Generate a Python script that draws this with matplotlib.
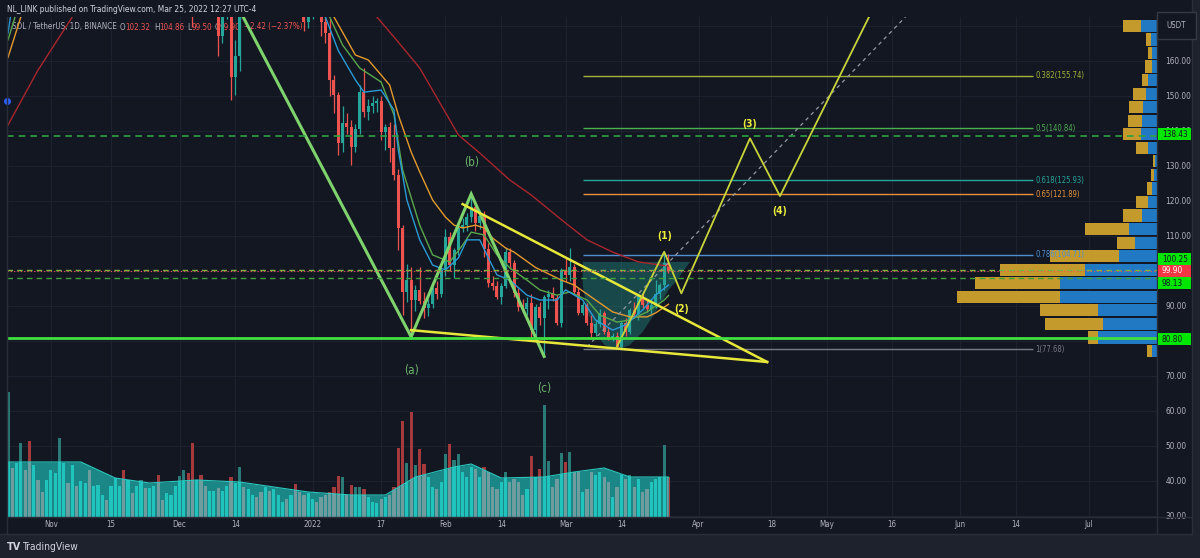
import matplotlib
matplotlib.use('Agg')
import matplotlib.pyplot as plt
import matplotlib.dates as mdates
from matplotlib.patches import Rectangle, Polygon
from matplotlib import font_manager
import pandas as pd

W, H = 1200, 558
fonts = font_manager.fontManager.ttflist
names = {f.name for f in fonts}
STRETCH = 'normal'
if 'Liberation Sans Narrow' in names:
    FONT = 'Liberation Sans Narrow'
elif any(f.name == 'DejaVu Sans' and f.stretch in ('condensed', 'semi-condensed') for f in fonts):
    FONT, STRETCH = 'DejaVu Sans', 'condensed'
else:
    FONT = 'Liberation Sans'
plt.rcParams['font.family'] = [FONT, 'DejaVu Sans']
plt.rcParams['font.stretch'] = STRETCH

BG = '#131722'
GRID = '#1e2230'
TXT = '#b2b5be'
UP = '#26a69a'
DN = '#ef5350'

# ---------------- data ----------------
# daily candles Dec 1 2021 .. Mar 25 2022 (O, H, L, C)
candle_open = [210, 232, 236, 215, 200, 203, 195, 190, 196, 198, 167, 176, 180, 155.5, 161.3, 178, 174, 182, 188, 183, 180, 190, 186, 192, 194, 195, 192, 194, 180, 176, 171,
               176, 178, 176, 171, 168, 154.6, 150.3, 136.6, 142.3, 141.2, 135.4, 140.6, 151, 145.4, 147.2, 148, 148.6, 139.7, 141, 135, 127.4, 112.3, 94, 97.4, 91.7, 94.6, 91.5, 89.4, 90.5, 95, 93.5,
               100.3, 109.8, 101.7, 106, 112.3, 113.2, 115.5, 118.4, 113.7, 115.6, 106.3, 96.6, 95.8, 92.6, 95.7, 105.5, 102.2, 93.7, 89.8, 89, 90.8, 83.1, 89.8, 86.5, 92.7, 93.5, 92.3, 85.1,
               100.3, 98.8, 101, 94, 88, 90.3, 85.1, 82.2, 84.8, 88, 82.7, 80.8, 81.5, 78.4, 85.1, 82.5, 88.9, 87.6, 92.8, 90.3, 89.1, 90.2, 93.4, 95.9, 102.32]
candle_high = [238, 241, 238, 218, 206, 205, 200, 198, 200, 200, 178, 183, 181, 166, 182, 184, 186, 190, 194, 186, 192, 196, 194, 200, 198, 198, 200, 196, 184, 178, 177,
               180, 182, 178, 173, 172, 156, 151, 147, 145, 143, 142, 153, 158, 149, 150, 149.5, 150, 142, 142.5, 142, 129, 113, 102, 101, 96, 101, 94, 92, 95.5, 97, 101,
               112, 111, 106.5, 114, 115, 116.5, 121.7, 120, 117.5, 117, 108, 98.5, 97, 96.5, 106.5, 106.5, 103, 95, 92, 92.5, 93.5, 90.5, 91, 93, 94.5, 95.5, 93, 100.8,
               104, 106.5, 102, 95, 91, 90.8, 87.5, 86, 89, 88.5, 84, 82.3, 82.5, 85.8, 86.5, 89.5, 91, 93.5, 94, 92, 92, 97.5, 96.5, 105.5, 104.86]
candle_low = [208, 225, 212, 169.7, 190, 180, 188, 186, 185, 161.5, 165, 172, 148.8, 150.2, 157, 172, 173, 178, 180, 175, 178, 184, 182, 188, 190, 188, 188, 178, 174, 168.5, 169.5,
              172, 174, 167, 165, 150, 145, 133, 134, 139, 130.3, 134, 139, 144, 143, 145, 145.5, 137.5, 134.5, 131, 126, 106, 87.4, 91, 82, 88.5, 90.5, 86.5, 87, 89.5, 92, 92.5,
              98.5, 100, 98, 104.5, 111, 111.5, 114, 111.5, 112, 104, 95.5, 94.5, 92, 90.5, 95, 100.5, 92.5, 88.5, 88, 87.5, 81, 81.5, 84.5, 76, 89, 91.5, 84.5, 84,
              97, 97, 93.5, 87.5, 87.5, 84.5, 81, 81.5, 84, 82, 80.3, 80, 77.68, 78, 81.5, 82, 86.5, 86, 89.5, 88.2, 87.8, 89.5, 92, 94.6, 99.5]
candle_close = [232, 236, 215, 200, 203, 195, 190, 196, 198, 167, 176, 180, 155.5, 161.3, 178, 174, 182, 188, 183, 180, 190, 186, 192, 194, 195, 192, 194, 180, 176, 171, 176,
                178, 176, 171, 168, 154.6, 150.3, 136.6, 142.3, 141.2, 135.4, 140.6, 151, 145.4, 147.2, 148, 148.6, 139.7, 141, 135, 127.4, 112.3, 94, 97.4, 91.7, 94.6, 91.5, 89.4, 90.5, 95, 93.5, 100.3,
                109.8, 101.7, 106, 112.3, 113.2, 115.5, 118.4, 113.7, 115.6, 106.3, 96.6, 95.8, 92.6, 95.7, 105.5, 102.2, 93.7, 89.8, 89, 90.8, 83.1, 89.8, 86.5, 92.7, 93.5, 92.3, 85.1, 100.3,
                98.8, 101, 94, 88, 90.3, 85.1, 82.2, 84.8, 88, 82.7, 80.8, 81.5, 78.4, 85.1, 82.5, 88.9, 87.6, 92.8, 90.3, 89.1, 90.2, 93.4, 95.9, 102.32, 99.9]
candle_dates = pd.date_range('2021-12-01', '2022-03-25', freq='D')

# volume (Oct 22 2021 .. Mar 25 2022), arbitrary units; colour of Oct/Nov bars
volume = [125, 49, 54, 74, 47, 76, 52, 37, 25, 37,
          47, 44, 79, 54, 34, 52, 31, 36, 34, 47, 31, 32, 22, 17, 31, 39, 31, 47, 37, 24, 31, 37, 29, 29, 31, 42, 17, 24, 22, 31,
          41, 47, 44, 74, 37, 42, 31, 26, 26, 29, 26, 31, 40, 34, 50, 30, 28, 22, 20, 25, 30, 26, 28, 22, 15, 18, 22, 33, 25, 22, 24,
          18, 15, 20, 22, 25, 30, 41, 40, 22, 32, 30, 30, 28, 20, 15, 14, 18, 20, 22, 30, 69, 96, 54, 105, 52, 68, 53, 40, 30, 28, 35,
          63, 73, 57, 63, 45, 40, 50, 48, 40, 50, 45, 30, 28, 35, 45, 35, 38, 35, 22, 28, 61, 40, 48, 112, 56, 30, 38, 64,
          55, 65, 45, 45, 25, 28, 45, 42, 45, 40, 35, 20, 30, 42, 38, 42, 30, 38, 25, 28, 35, 38, 40, 72, 40]
early_up = [1, 0, 1, 1, 0, 0, 1, 0, 0, 1,
            1, 1, 1, 1, 0, 1, 0, 1, 1, 0, 1, 1, 1, 0, 1, 1, 1, 0, 1, 0, 1, 1, 0, 1, 1, 0, 0, 1, 1, 1]
vol_dates = pd.date_range('2021-10-22', '2022-03-25', freq='D')
volma_dates = ['2021-10-22', '2021-11-08', '2021-11-16', '2021-11-24', '2021-12-05', '2021-12-15', '2021-12-31',
               '2022-01-10', '2022-01-18', '2022-01-25', '2022-02-03', '2022-02-07', '2022-02-14', '2022-02-24',
               '2022-03-03', '2022-03-10', '2022-03-16', '2022-03-22', '2022-03-25']
volma = [55, 55, 39, 34, 37, 35, 25, 22, 22, 40, 50, 53, 39, 40, 45, 49, 40, 40, 40]

# moving averages
ma_red_d = ['2021-10-22', '2021-10-29', '2021-11-06', '2021-11-20', '2021-12-05', '2021-12-25', '2022-01-05', '2022-01-16',
            '2022-01-21', '2022-01-26', '2022-01-31', '2022-02-04', '2022-02-09', '2022-02-16', '2022-02-21', '2022-03-01',
            '2022-03-06', '2022-03-12', '2022-03-18', '2022-03-25']
ma_red = [141.7, 157.4, 172.6, 195, 205, 200, 188, 172.6, 165.4, 158, 147.4, 138.9, 133.7, 126, 121.7, 113.7, 108.9, 105.4, 102.6, 101.4]
ma_org_d = ['2021-10-22', '2021-10-25', '2021-11-10', '2021-12-10', '2021-12-28', '2022-01-06', '2022-01-11', '2022-01-14',
            '2022-01-17', '2022-01-19', '2022-01-21', '2022-01-24', '2022-01-26', '2022-01-29', '2022-02-01', '2022-02-03',
            '2022-02-05', '2022-02-08', '2022-02-10', '2022-02-12', '2022-02-15', '2022-02-17', '2022-02-22', '2022-02-28',
            '2022-03-03', '2022-03-08', '2022-03-12', '2022-03-16', '2022-03-20', '2022-03-22', '2022-03-25']
ma_org = [161, 172.6, 230, 200, 185, 172.6, 161.7, 160.3, 156, 153.1, 144.6, 134, 128.3, 120.3, 115.4, 113.1, 112.3, 113.1,
          112.3, 109.4, 106.6, 105.4, 101, 97.4, 96, 91.7, 88.3, 86.9, 86.9, 88, 90.5]
ma_grn_d = ['2021-10-22', '2021-10-24', '2021-12-01', '2022-01-05', '2022-01-08', '2022-01-12', '2022-01-17', '2022-01-20',
            '2022-01-22', '2022-01-26', '2022-01-29', '2022-02-02', '2022-02-05', '2022-02-07', '2022-02-10', '2022-02-13',
            '2022-02-16', '2022-02-20', '2022-02-23', '2022-02-27', '2022-03-02', '2022-03-06', '2022-03-09', '2022-03-13',
            '2022-03-16', '2022-03-20', '2022-03-24', '2022-03-25']
ma_grn = [166, 174, 220, 172.6, 164.6, 158, 154, 144.6, 128.9, 113.1, 104.6, 102.6, 107.4, 111.1, 110.3, 104.6, 100.9, 97.4,
          94.6, 93.1, 94, 91.7, 87.4, 85.4, 86, 88.3, 91.7, 93]
ma_blu_d = ['2021-10-22', '2021-10-23', '2021-12-01', '2022-01-04', '2022-01-07', '2022-01-11', '2022-01-13', '2022-01-17',
            '2022-01-20', '2022-01-21', '2022-01-23', '2022-01-26', '2022-01-29', '2022-02-01', '2022-02-04', '2022-02-06',
            '2022-02-09', '2022-02-11', '2022-02-13', '2022-02-16', '2022-02-20', '2022-02-23', '2022-02-27', '2022-03-01',
            '2022-03-05', '2022-03-08', '2022-03-12', '2022-03-15', '2022-03-19', '2022-03-22', '2022-03-25']
ma_blu = [168, 176, 220, 172.6, 163, 154.6, 151.1, 151.7, 146, 134.6, 120.3, 108.9, 101.7, 100.3, 103.7, 108.9, 108.9, 103.7,
          98.9, 97.4, 93.1, 91.7, 91.7, 94.6, 91.7, 86, 83.1, 84.6, 88.9, 93.1, 96]

# drawings
abc_d = ['2021-12-15', '2022-01-24', '2022-02-07', '2022-02-24']
abc_p = [174.5, 81.2, 122, 75.6]
abc_lbl = ['', '(a)', '(b)', '(c)']
abc_lbl_p = [0, 71.7, 130.9, 66.3]
wedge_up_d, wedge_up_p = ['2022-02-05', '2022-04-17'], [119.1, 74]
wedge_lo_d, wedge_lo_p = ['2022-01-24', '2022-04-17'], [83.1, 74]
imp_d = ['2022-03-13', '2022-03-24', '2022-03-28', '2022-04-13', '2022-04-20', '2022-05-20']
imp_p = [78.4, 105.5, 93.6, 137.9, 121.4, 195.4]
imp_lbl = ['', '(1)', '(2)', '(3)', '(4)', '']
imp_lbl_p = [0, 110, 89.1, 142, 117.1, 0]
dash_d, dash_p = ['2022-03-06', '2022-06-01'], [78.3, 188.8]
cup_d = ['2022-03-05', '2022-03-30', '2022-03-27', '2022-03-25', '2022-03-22', '2022-03-19', '2022-03-16',
         '2022-03-13', '2022-03-10', '2022-03-08', '2022-03-06', '2022-03-05']
cup_p = [102.6, 102.6, 97.4, 94.6, 88.3, 82.6, 78.9, 77.4, 78.9, 82.6, 88.9, 96]

fib_ratio = ['0.382', '0.5', '0.618', '0.65', '0.786', '1']
fib_price = [155.74, 140.84, 125.93, 121.89, 104.71, 77.68]
fib_color = ['#a4b23c', '#4caf50', '#26a69a', '#e8913a', '#4f8fd0', '#787b86']
fib_start, fib_end = '2022-03-05', '2022-06-18'

level_price = [138.43, 100.25, 99.90, 98.13, 80.80]
level_box = ['#00e600', '#00e600', '#f23645', '#00e600', '#00e600']

# volume profile rows (top row first): up part (blue) and down part (gold)
vp_top = 172.14
vp_step = 3.869
vp_blue = [16.3, 6, 4.7, 5.3, 8.7, 11, 13.7, 15.3, 16.3, 8.7, 2, 3, 5.3, 9.3, 15.3, 27.7, 22, 38, 72, 97, 97, 59, 54, 59, 5.3]
vp_gold = [17.4, 5.3, 4.6, 6.7, 6.6, 12.7, 14, 14, 17.4, 12.6, 2.3, 3, 5, 11.7, 19, 44, 17.7, 69, 85, 85, 103, 58, 58, 10, 4.4]

price_ticks = [30, 40, 50, 60, 70, 90, 110, 120, 130, 140, 150, 160]
tick_dates = ['2021-11-01', '2021-11-15', '2021-12-01', '2021-12-14', '2022-01-01', '2022-01-17', '2022-02-01', '2022-02-14',
              '2022-03-01', '2022-03-14', '2022-04-01', '2022-04-18', '2022-05-01', '2022-05-16', '2022-06-01', '2022-06-14',
              '2022-07-01']
tick_labels = ['Nov', '15', 'Dec', '14', '2022', '17', 'Feb', '14', 'Mar', '14', 'Apr', '18', 'May', '16', 'Jun', '14', 'Jul']


def dn(s):
    return mdates.date2num(pd.to_datetime(s))


def fx(x):
    return x / W


def fy(y):
    return 1 - y / H


# ---------------- figure ----------------
fig = plt.figure(figsize=(W / 100, H / 100), dpi=100, facecolor='#1e222d')
renderer = fig.canvas.get_renderer()


def size_for(s, target_px, weight='normal', ref=10):
    t = fig.text(0, 0, s, fontsize=ref, fontweight=weight)
    w = t.get_window_extent(renderer).width
    t.remove()
    return ref * target_px / w


HDR = size_for('NL_LINK published on TradingView.com, Mar 25, 2022 12:27 UTC-4', 250)
LEG = size_for('SOL / TetherUS, 1D, BINANCE', 106)
PSZ = size_for('160.00', 26)
TSZ = size_for('2022', 18)
FIB = size_for('0.382(155.74)', 49)
WAV = size_for('(b)', 15)
WAVB = size_for('(1)', 15, 'bold')
LOGO = size_for('TradingView', 56)

fig.patches.append(Rectangle((0, fy(534)), fx(1192), 1 - fy(534), transform=fig.transFigure, fc=BG, ec='none', zorder=-10))

rect = [fx(7), fy(517), (1157 - 7) / W, (517 - 17) / H]
base = dn('2021-11-01')
XLIM = (base - 10.23, base + 257.9)
YLIM = (29.714, 172.571)

# volume axes (bottom layer, carries background grid)
axv = fig.add_axes(rect, facecolor=BG)
axv.set_xlim(*XLIM)
axv.set_ylim(0, 500)
for t in tick_dates:
    axv.axvline(dn(t), color=GRID, lw=0.8, zorder=0)
for p in range(30, 180, 10):
    axv.axhline((p - YLIM[0]) / (YLIM[1] - YLIM[0]) * 500, color=GRID, lw=0.8, zorder=0)
up_flags = early_up + [1 if c >= o else 0 for o, c in zip(candle_open, candle_close)]
vx = mdates.date2num(vol_dates)
axv.bar(vx, volume, width=0.74, color=['#2a7b77' if u else '#a53a3d' for u in up_flags], zorder=2, lw=0)
mx = [dn(d) for d in volma_dates]
area = axv.fill_between(mx, 0, volma, color='#1b8686', lw=0, zorder=3)
inner = axv.bar(vx, volume, width=0.74, color=['#20c4bc' if u else '#6f9c9e' for u in up_flags], zorder=4, lw=0)
for b in inner:
    b.set_clip_path(area.get_paths()[0], axv.transData)
axv.plot(mx, volma, color='#2bc9c0', lw=0.8, zorder=5)
axv.axis('off')

# main price axes
ax = fig.add_axes(rect, facecolor='none')
ax.set_xlim(*XLIM)
ax.set_ylim(*YLIM)
for s in ax.spines.values():
    s.set_visible(False)

cx = mdates.date2num(candle_dates)
for x, o, h, l, c in zip(cx, candle_open, candle_high, candle_low, candle_close):
    col = UP if c >= o else DN
    ax.vlines(x, l, h, color=col, lw=0.9, zorder=4)
    ax.bar(x, max(abs(c - o), 0.25), bottom=min(o, c), width=0.7, color=col, zorder=4, lw=0)

# moving averages
for dd, vv, col in [(ma_red_d, ma_red, '#a8262c'), (ma_org_d, ma_org, '#e39a2d'),
                    (ma_grn_d, ma_grn, '#59a84b'), (ma_blu_d, ma_blu, '#2a9ad6')]:
    ax.plot([dn(d) for d in dd], vv, color=col, lw=1.0, zorder=5)

# fib levels
for p, col in zip(fib_price, fib_color):
    ax.hlines(p, dn(fib_start), dn(fib_end), color=col, lw=1.0, zorder=3)

# cup
ax.add_patch(Polygon(list(zip([dn(d) for d in cup_d], cup_p)), closed=True, fc='#26a69a', alpha=0.35, ec='none', zorder=3))

# abc zigzag and wedge
ax.plot([dn(d) for d in abc_d], abc_p, color='#7fd36c', lw=2.2, zorder=7, solid_joinstyle='miter')
for d, lbl, lp in zip(abc_d, abc_lbl, abc_lbl_p):
    if lbl:
        ax.text(dn(d), lp, lbl, color='#6db56a', fontsize=WAV, ha='center', va='center', zorder=8)
ax.plot([dn(d) for d in wedge_up_d], wedge_up_p, color='#e8e83a', lw=1.8, zorder=7)
ax.plot([dn(d) for d in wedge_lo_d], wedge_lo_p, color='#e8e83a', lw=1.8, zorder=7)
ax.plot([dn(d) for d in dash_d], dash_p, color='#9598a1', lw=0.9, ls=(0, (3, 3)), zorder=6)
ax.plot([dn(d) for d in imp_d], imp_p, color='#c9d43a', lw=1.3, zorder=7)
for d, lbl, lp in zip(imp_d, imp_lbl, imp_lbl_p):
    if lbl:
        ax.text(dn(d), lp, lbl, color='#f0f03a', fontsize=WAVB, fontweight='bold', ha='center', va='center', zorder=8)

# price scale
ax.yaxis.tick_right()
ax.set_yticks(price_ticks)
ax.set_yticklabels([f'{p:.2f}' for p in price_ticks])
ax.tick_params(axis='y', length=0, pad=6, labelsize=PSZ, labelcolor=TXT)
ax.set_xticks([dn(t) for t in tick_dates])
ax.set_xticklabels(tick_labels)
ax.tick_params(axis='x', length=0, pad=2.5, labelsize=TSZ, labelcolor=TXT)

# volume profile (top layer) with level lines and fib labels over it
axp = fig.add_axes(rect, facecolor='none')
axp.set_xlim(1150, 0)
axp.set_ylim(*YLIM)
axp.axis('off')
lows = [vp_top - vp_step * (k + 1) for k in range(len(vp_blue))]
axp.barh(lows, vp_blue, height=vp_step * 0.9, align='edge', color='#2179c4', lw=0)
axp.barh(lows, vp_gold, left=vp_blue, height=vp_step * 0.9, align='edge', color='#c49a2c', lw=0)
axp.axhline(138.43, color='#2ea043', lw=1.2, ls=(0, (4, 3)), zorder=3)
axp.axhline(100.25, color='#7cb342', lw=1.0, ls=(0, (4, 3)), zorder=3)
axp.axhline(99.90, color=DN, lw=0.8, ls=(0, (1, 2)), zorder=3)
axp.axhline(98.13, color='#3f9f3f', lw=1.0, ls=(0, (4, 3)), zorder=3)
axp.axhline(80.80, color='#3fe03f', lw=2.0, zorder=3)
for r, p, col in zip(fib_ratio, fib_price, fib_color):
    axp.text(dn(fib_end) + 0.5, p, f'{r}({p:.2f})', color=col, fontsize=FIB, ha='left', va='center', zorder=4,
             transform=ax.transData)

# level boxes on the price scale
box_shift = [0.7, 3.15, 0.24, -1.56, -0.23]
for p, c, s in zip(level_price, level_box, box_shift):
    yy = (p + s - YLIM[0]) / (YLIM[1] - YLIM[0])
    y_px = 517 - yy * 500
    fig.patches.append(Rectangle((fx(1158), fy(y_px + 6)), fx(33), 12 / H, transform=fig.transFigure,
                                 fc=c, ec='none', zorder=5))
    fig.text(fx(1162), fy(y_px), f'{p:.2f}', color='white' if c == '#f23645' else '#131722', fontsize=PSZ,
             va='center', ha='left', zorder=6)

# frame lines
fig.add_artist(plt.Line2D([fx(1157), fx(1157)], [fy(17), fy(534)], color='#2a2e39', lw=1))
fig.add_artist(plt.Line2D([fx(1192), fx(1192)], [fy(0), fy(534)], color='#2a2e39', lw=1))
fig.add_artist(plt.Line2D([fx(7), fx(1192)], [fy(517), fy(517)], color='#2a2e39', lw=1))
fig.add_artist(plt.Line2D([fx(7), fx(7)], [fy(17), fy(534)], color='#2a2e39', lw=1))
fig.add_artist(plt.Line2D([fx(0), fx(1192)], [fy(534), fy(534)], color='#2a2e39', lw=1))

# header texts
fig.text(fx(7), fy(9), 'NL_LINK published on TradingView.com, Mar 25, 2022 12:27 UTC-4', color='#d1d4dc', fontsize=HDR, va='center')
legend = [(12, 'SOL / TetherUS, 1D, BINANCE', TXT), (120, 'O', TXT), (125, '102.32', DN), (154, 'H', TXT), (159, '104.86', DN),
          (187, 'L', TXT), (191, '99.50', DN), (215, 'C', TXT), (220, '99.90', DN), (244, '\u22122.42 (\u22122.37%)', DN)]
for x, s, c in legend:
    ax.text(fx(x), fy(27), s, color=c, fontsize=LEG, va='center', transform=fig.transFigure, zorder=2)
fig.text(fx(1176.5), fy(25.5), 'USDT', color=TXT, fontsize=PSZ * 0.95, ha='center', va='center',
         bbox=dict(fc=BG, ec='#363a45', pad=1.2, boxstyle='square'))
ax.plot([XLIM[0]], [148.6], marker='o', ms=4, color='#2962ff', clip_on=False, zorder=9)

# footer
fig.text(fx(7), fy(547), 'TV', color='#d1d4dc', fontsize=LOGO * 1.05, fontweight='bold', va='center')
fig.text(fx(22), fy(547), 'TradingView', color='#d1d4dc', fontsize=LOGO, va='center')

fig.savefig('out.png', dpi=100, facecolor=fig.get_facecolor())
